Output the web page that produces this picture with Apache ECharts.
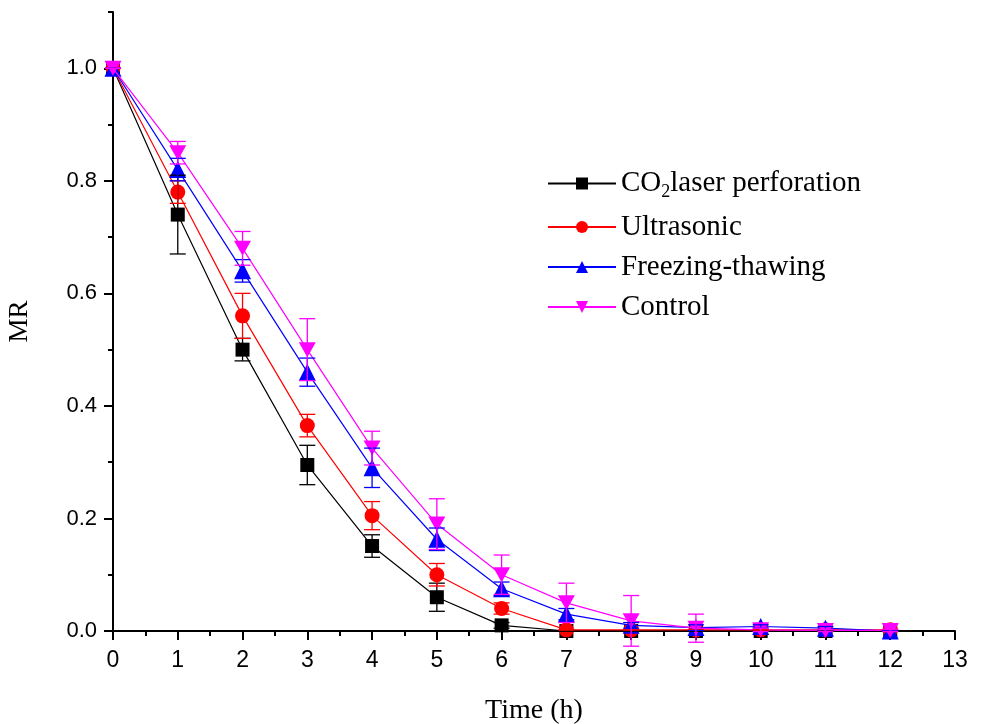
<!DOCTYPE html>
<html>
<head>
<meta charset="utf-8">
<script src="https://cdn.jsdelivr.net/npm/echarts@6/dist/echarts.min.js"></script>
<style>
  html, body { margin: 0; padding: 0; background: #fff; }
  #chart { width: 981px; height: 724px; }
</style>
</head>
<body>
<div id="chart"></div>
<script>
// data
var time = [0, 1, 2, 3, 4, 5, 6, 7, 8, 9, 10, 11, 12];
var co2 = [1, 0.74, 0.50, 0.295, 0.151, 0.06, 0.01, 0, 0, 0, 0, 0, 0];
var co2Err = [0, 0.07, 0.02, 0.035, 0.02, 0.025, 0.005, 0, 0, 0, 0, 0, 0];
var ultra = [1, 0.78, 0.56, 0.365, 0.205, 0.10, 0.04, 0.002, 0.002, 0.002, 0.002, 0.002, 0.002];
var ultraErr = [0, 0.02, 0.04, 0.02, 0.025, 0.02, 0.01, 0, 0, 0, 0, 0, 0];
var freeze = [1, 0.82, 0.64, 0.46, 0.29, 0.163, 0.075, 0.03, 0.01, 0.006, 0.008, 0.005, 0];
var freezeErr = [0, 0.02, 0.02, 0.025, 0.035, 0.02, 0.012, 0.01, 0.005, 0.005, 0.003, 0.003, 0];
var control = [1, 0.85, 0.68, 0.50, 0.325, 0.19, 0.10, 0.05, 0.018, 0.005, 0.002, 0.001, 0.001];
var controlErr = [0, 0.02, 0.03, 0.055, 0.03, 0.045, 0.035, 0.035, 0.045, 0.025, 0.003, 0.002, 0.002];
var yMajor = [0, 0.2, 0.4, 0.6, 0.8, 1.0];
var yMinor = [0.1, 0.3, 0.5, 0.7, 0.9, 1.1];

var names = ['CO2 laser perforation', 'Ultrasonic', 'Freezing-thawing', 'Control'];
var colors = ['#000000', '#ff0000', '#0000ff', '#ff00ff'];
var symbols = ['rect', 'circle', 'triangle', 'path://M0,0 L10,0 L5,9 Z'];
var sizes = [14, 15, 17, [17, 15]];
var values = [co2, ultra, freeze, control];
var errs = [co2Err, ultraErr, freezeErr, controlErr];

var chart = echarts.init(document.getElementById('chart'));

function errorItem(color) {
  return function (params, api) {
    var x = api.value(0);
    var lo = api.coord([x, api.value(1)]);
    var hi = api.coord([x, api.value(2)]);
    var w = 8;
    var style = { stroke: color, lineWidth: 1.3 };
    return {
      type: 'group',
      children: [
        { type: 'line', shape: { x1: lo[0], y1: lo[1], x2: hi[0], y2: hi[1] }, style: style },
        { type: 'line', shape: { x1: lo[0] - w, y1: lo[1], x2: lo[0] + w, y2: lo[1] }, style: style },
        { type: 'line', shape: { x1: hi[0] - w, y1: hi[1], x2: hi[0] + w, y2: hi[1] }, style: style }
      ]
    };
  };
}

var series = [];
values.forEach(function (v, i) {
  series.push({
    name: names[i],
    type: 'line',
    data: time.map(function (t, j) { return [t, v[j]]; }),
    symbol: symbols[i],
    symbolSize: sizes[i],
    color: colors[i],
    lineStyle: { width: 1.2, color: colors[i] },
    itemStyle: { color: colors[i] },
    z: 2 + i
  });
});
values.forEach(function (v, i) {
  series.push({
    type: 'custom',
    renderItem: errorItem(colors[i]),
    data: time.map(function (t, j) { return [t, v[j] - errs[i][j], v[j] + errs[i][j]]; }),
    z: 10 + i,
    silent: true
  });
});

var option = {
  animation: false,
  backgroundColor: '#fff',
  grid: { left: 113, right: 26, top: 12, bottom: 93, outerBoundsMode: 'none' },
  legend: {
    orient: 'vertical',
    left: 542,
    top: 164,
    itemWidth: 68,
    itemHeight: 15,
    itemGap: 11,
    data: names,
    formatter: function (name) {
      if (name === names[0]) return '{a|CO}{s|2}{a|laser perforation}';
      return '{a|' + name + '}';
    },
    textStyle: {
      rich: {
        a: { fontFamily: 'Liberation Serif', fontSize: 29, color: '#000' },
        s: { fontFamily: 'Liberation Serif', fontSize: 18, color: '#000', padding: [18, 0, 0, 0] }
      }
    }
  },
  xAxis: {
    type: 'value',
    min: 0, max: 13, interval: 1,
    name: 'Time (h)',
    nameLocation: 'middle',
    nameGap: 66,
    nameTextStyle: { fontFamily: 'Liberation Serif', fontSize: 28, color: '#000' },
    axisLine: { lineStyle: { color: '#000', width: 2 } },
    axisTick: { length: 9, lineStyle: { color: '#000', width: 2 } },
    minorTick: { show: true, splitNumber: 2, length: 5, lineStyle: { color: '#000', width: 2 } },
    axisLabel: { fontFamily: 'Liberation Sans Narrow, Liberation Sans', fontSize: 23, color: '#000', margin: 18 },
    splitLine: { show: false }
  },
  yAxis: [{
    type: 'value',
    min: 0, max: 1.1,
    name: 'MR',
    nameLocation: 'middle',
    nameGap: 80,
    nameTextStyle: { fontFamily: 'Liberation Serif', fontSize: 27, color: '#000' },
    axisLine: { show: true, lineStyle: { color: '#000', width: 2 } },
    axisTick: { show: true, length: 9, customValues: yMajor, lineStyle: { color: '#000', width: 2 } },
    axisLabel: {
      customValues: yMajor,
      fontFamily: 'Liberation Sans', fontSize: 22, color: '#000', margin: 16,
      formatter: function (v) { return v.toFixed(1); }
    },
    splitLine: { show: false }
  }, {
    type: 'value',
    min: 0, max: 1.1,
    position: 'left',
    axisLine: { show: false },
    axisTick: { show: true, length: 5, customValues: yMinor, lineStyle: { color: '#000', width: 2 } },
    axisLabel: { show: false },
    splitLine: { show: false }
  }],
  series: series
};

chart.setOption(option);
</script>
</body>
</html>
